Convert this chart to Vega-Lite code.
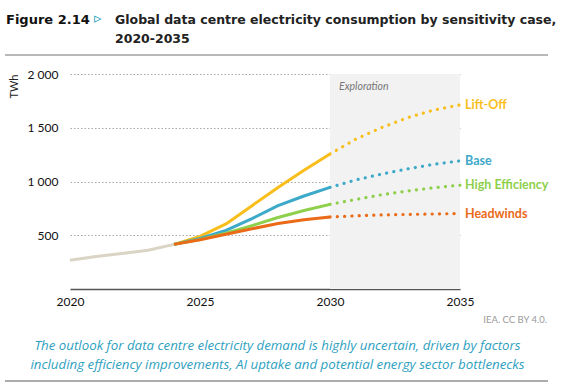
{
  "$schema": "https://vega.github.io/schema/vega-lite/v6.json",
  "width": 390,
  "height": 215,
  "autosize": {"type": "none"},
  "padding": {"left": 70, "top": 74, "right": 107, "bottom": 101},
  "background": "white",
  "config": {"view": {"stroke": null}, "font": "Lato"},
  "datasets": {
    "series": [
      {"series": "Historical", "phase": "hist", "year": 2020, "value": 268},
      {"series": "Historical", "phase": "hist", "year": 2021, "value": 303},
      {"series": "Historical", "phase": "hist", "year": 2022, "value": 330},
      {"series": "Historical", "phase": "hist", "year": 2023, "value": 361},
      {"series": "Historical", "phase": "hist", "year": 2024, "value": 415},
      {"series": "Lift-Off", "phase": "solid", "year": 2024, "value": 415},
      {"series": "Lift-Off", "phase": "solid", "year": 2025, "value": 490},
      {"series": "Lift-Off", "phase": "solid", "year": 2026, "value": 605},
      {"series": "Lift-Off", "phase": "solid", "year": 2027, "value": 775},
      {"series": "Lift-Off", "phase": "solid", "year": 2028, "value": 945},
      {"series": "Lift-Off", "phase": "solid", "year": 2029, "value": 1105},
      {"series": "Lift-Off", "phase": "solid", "year": 2030, "value": 1256},
      {"series": "Lift-Off", "phase": "dotted", "year": 2030, "value": 1256},
      {"series": "Lift-Off", "phase": "dotted", "year": 2031, "value": 1395},
      {"series": "Lift-Off", "phase": "dotted", "year": 2032, "value": 1503},
      {"series": "Lift-Off", "phase": "dotted", "year": 2033, "value": 1595},
      {"series": "Lift-Off", "phase": "dotted", "year": 2034, "value": 1665},
      {"series": "Lift-Off", "phase": "dotted", "year": 2035, "value": 1712},
      {"series": "Base", "phase": "solid", "year": 2024, "value": 415},
      {"series": "Base", "phase": "solid", "year": 2025, "value": 470},
      {"series": "Base", "phase": "solid", "year": 2026, "value": 545},
      {"series": "Base", "phase": "solid", "year": 2027, "value": 655},
      {"series": "Base", "phase": "solid", "year": 2028, "value": 775},
      {"series": "Base", "phase": "solid", "year": 2029, "value": 865},
      {"series": "Base", "phase": "solid", "year": 2030, "value": 945},
      {"series": "Base", "phase": "dotted", "year": 2030, "value": 945},
      {"series": "Base", "phase": "dotted", "year": 2031, "value": 1015},
      {"series": "Base", "phase": "dotted", "year": 2032, "value": 1070},
      {"series": "Base", "phase": "dotted", "year": 2033, "value": 1118},
      {"series": "Base", "phase": "dotted", "year": 2034, "value": 1160},
      {"series": "Base", "phase": "dotted", "year": 2035, "value": 1192},
      {"series": "High Efficiency", "phase": "solid", "year": 2024, "value": 415},
      {"series": "High Efficiency", "phase": "solid", "year": 2025, "value": 460},
      {"series": "High Efficiency", "phase": "solid", "year": 2026, "value": 520},
      {"series": "High Efficiency", "phase": "solid", "year": 2027, "value": 590},
      {"series": "High Efficiency", "phase": "solid", "year": 2028, "value": 665},
      {"series": "High Efficiency", "phase": "solid", "year": 2029, "value": 730},
      {"series": "High Efficiency", "phase": "solid", "year": 2030, "value": 787},
      {"series": "High Efficiency", "phase": "dotted", "year": 2030, "value": 787},
      {"series": "High Efficiency", "phase": "dotted", "year": 2031, "value": 833},
      {"series": "High Efficiency", "phase": "dotted", "year": 2032, "value": 877},
      {"series": "High Efficiency", "phase": "dotted", "year": 2033, "value": 912},
      {"series": "High Efficiency", "phase": "dotted", "year": 2034, "value": 942},
      {"series": "High Efficiency", "phase": "dotted", "year": 2035, "value": 965},
      {"series": "Headwinds", "phase": "solid", "year": 2024, "value": 415},
      {"series": "Headwinds", "phase": "solid", "year": 2025, "value": 458},
      {"series": "Headwinds", "phase": "solid", "year": 2026, "value": 510},
      {"series": "Headwinds", "phase": "solid", "year": 2027, "value": 560},
      {"series": "Headwinds", "phase": "solid", "year": 2028, "value": 610},
      {"series": "Headwinds", "phase": "solid", "year": 2029, "value": 645},
      {"series": "Headwinds", "phase": "solid", "year": 2030, "value": 670},
      {"series": "Headwinds", "phase": "dotted", "year": 2030, "value": 670},
      {"series": "Headwinds", "phase": "dotted", "year": 2031, "value": 681},
      {"series": "Headwinds", "phase": "dotted", "year": 2032, "value": 689},
      {"series": "Headwinds", "phase": "dotted", "year": 2033, "value": 694},
      {"series": "Headwinds", "phase": "dotted", "year": 2034, "value": 698},
      {"series": "Headwinds", "phase": "dotted", "year": 2035, "value": 702}
    ],
    "labels": [
      {"series": "Lift-Off", "year": 2035, "value": 1712},
      {"series": "Base", "year": 2035, "value": 1192},
      {"series": "High Efficiency", "year": 2035, "value": 965},
      {"series": "Headwinds", "year": 2035, "value": 702}
    ]
  },
  "layer": [
    {
      "data": {"values": [{"start": 2030, "end": 2035, "label": "Exploration"}]},
      "mark": {"type": "rect", "color": "#F2F2F2"},
      "encoding": {
        "x": {
          "field": "start", "type": "quantitative",
          "scale": {"domain": [2020, 2035], "nice": false},
          "axis": {
            "values": [2020, 2025, 2030, 2035],
            "format": "d",
            "grid": false,
            "ticks": false,
            "labelFlush": false,
            "domainColor": "#555555",
            "domainWidth": 1.5,
            "labelPadding": 7,
            "labelFontSize": 12,
            "labelColor": "#111111",
            "labelFont": "Lato",
            "title": ["The outlook for data centre electricity demand is highly uncertain, driven by factors", "including efficiency improvements, AI uptake and potential energy sector bottlenecks"],
            "titleFont": "Open Sans",
            "titleFontStyle": "italic",
            "titleFontWeight": 500,
            "titleFontSize": 13.3,
            "titleColor": "#2E9FBF",
            "titleX": 207,
            "titleY": 60,
            "titleAlign": "center",
            "titleBaseline": "alphabetic",
            "titleLineHeight": 19.5
          }
        },
        "x2": {"field": "end"},
        "y": {
          "datum": 0, "type": "quantitative",
          "scale": {"domain": [0, 2000], "nice": false},
          "axis": {
            "values": [500, 1000, 1500, 2000],
            "labelExpr": "replace(format(datum.value, ','), ',', ' ')",
            "grid": true,
            "gridDash": [1.5, 2],
            "gridColor": "#A8A8A8",
            "domain": false,
            "ticks": false,
            "labelPadding": 12,
            "labelFontSize": 12,
            "labelColor": "#111111",
            "labelFont": "Lato",
            "title": "TWh",
            "titleFont": "Lato",
            "titleFontWeight": "normal",
            "titleFontSize": 11,
            "titleColor": "#222222",
            "titleAngle": -90,
            "titleX": -56,
            "titleY": 0,
            "titleAlign": "right",
            "titleBaseline": "middle"
          }
        },
        "y2": {"datum": 2000}
      }
    },
    {
      "data": {"values": [{"start": 2030, "label": "Exploration"}]},
      "mark": {"type": "text", "align": "left", "baseline": "alphabetic", "dx": 9, "dy": 16, "fontStyle": "italic", "fontSize": 10.5, "color": "#777777", "font": "Lato"},
      "encoding": {
        "x": {"field": "start", "type": "quantitative"},
        "y": {"datum": 2000, "type": "quantitative"},
        "text": {"field": "label"}
      }
    },
    {
      "data": {"name": "series"},
      "transform": [{"filter": "datum.phase != 'dotted'"}],
      "mark": {"type": "line", "strokeWidth": 3, "strokeCap": "butt", "strokeJoin": "round"},
      "encoding": {
        "x": {"field": "year", "type": "quantitative"},
        "y": {"field": "value", "type": "quantitative"},
        "detail": {"field": "series"},
        "color": {
          "field": "series", "type": "nominal",
          "scale": {"domain": ["Historical", "Lift-Off", "Base", "High Efficiency", "Headwinds"], "range": ["#DAD4C5", "#F9BE1B", "#3DA9C9", "#8ED04B", "#EA6A17"]},
          "legend": null
        },
        "order": {"field": "year"}
      }
    },
    {
      "data": {"name": "series"},
      "transform": [{"filter": "datum.phase == 'dotted'"}],
      "mark": {"type": "line", "strokeWidth": 3.2, "strokeCap": "round", "strokeDash": [0.1, 7.2]},
      "encoding": {
        "x": {"field": "year", "type": "quantitative"},
        "y": {"field": "value", "type": "quantitative"},
        "detail": {"field": "series"},
        "color": {"field": "series", "type": "nominal", "legend": null},
        "order": {"field": "year"}
      }
    },
    {
      "data": {"name": "labels"},
      "mark": {"type": "text", "align": "left", "baseline": "middle", "dx": 5, "fontWeight": "bold", "fontSize": 12.5, "font": "Lato"},
      "encoding": {
        "x": {"field": "year", "type": "quantitative"},
        "y": {"field": "value", "type": "quantitative"},
        "text": {"field": "series"},
        "color": {"field": "series", "type": "nominal", "legend": null}
      }
    },
    {
      "data": {"values": [{"t": "Figure 2.14"}]},
      "mark": {"type": "text", "align": "left", "baseline": "alphabetic", "font": "DejaVu Sans", "fontWeight": "bold", "fontSize": 13, "color": "#111111"},
      "encoding": {"x": {"value": -64}, "y": {"value": -50}, "text": {"field": "t"}}
    },
    {
      "data": {"values": [{"t": "▹"}]},
      "mark": {"type": "text", "align": "left", "baseline": "alphabetic", "font": "DejaVu Sans", "fontSize": 15, "color": "#2A9FBE"},
      "encoding": {"x": {"value": 24}, "y": {"value": -51}, "text": {"field": "t"}}
    },
    {
      "data": {"values": [{"t": "Global data centre electricity consumption by sensitivity case,"}]},
      "mark": {"type": "text", "align": "left", "baseline": "alphabetic", "font": "DejaVu Sans", "fontWeight": "bold", "fontSize": 12.5, "color": "#222222"},
      "encoding": {"x": {"value": 45}, "y": {"value": -50}, "text": {"field": "t"}}
    },
    {
      "data": {"values": [{"t": "2020-2035"}]},
      "mark": {"type": "text", "align": "left", "baseline": "alphabetic", "font": "DejaVu Sans", "fontWeight": "bold", "fontSize": 12.5, "color": "#222222"},
      "encoding": {"x": {"value": 45}, "y": {"value": -31}, "text": {"field": "t"}}
    },
    {
      "data": {"values": [{"t": "IEA. CC BY 4.0."}]},
      "mark": {"type": "text", "align": "right", "baseline": "alphabetic", "font": "Lato", "fontSize": 9.5, "color": "#999999"},
      "encoding": {"x": {"value": 477}, "y": {"value": 249}, "text": {"field": "t"}}
    },
    {
      "data": {"values": [{"p": "top"}]},
      "mark": {"type": "rule", "color": "#A0A0A0", "strokeWidth": 1.5},
      "encoding": {"x": {"value": -65}, "x2": {"value": 478}, "y": {"value": -19}}
    },
    {
      "data": {"values": [{"p": "bottom"}]},
      "mark": {"type": "rule", "color": "#909090", "strokeWidth": 1.5},
      "encoding": {"x": {"value": -65}, "x2": {"value": 478}, "y": {"value": 307}}
    }
  ]
}
